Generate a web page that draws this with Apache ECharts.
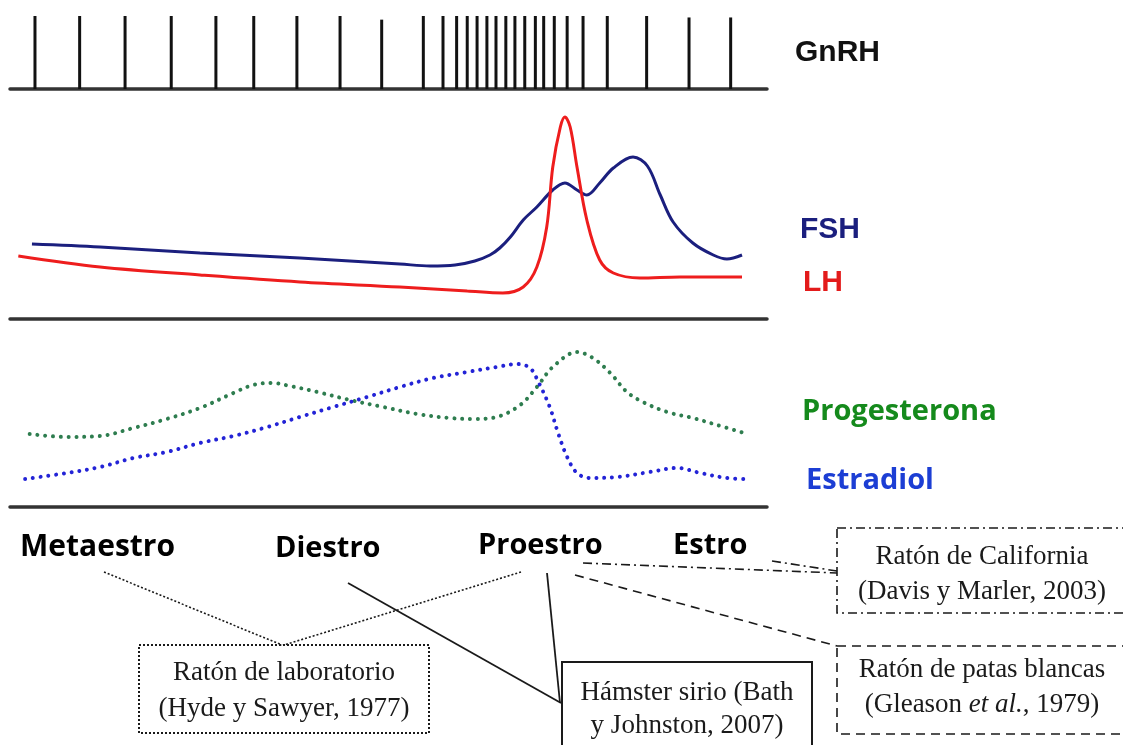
<!DOCTYPE html>
<html>
<head>
<meta charset="utf-8">
<script src="https://cdn.jsdelivr.net/npm/echarts@6/dist/echarts.min.js"></script>
<style>
html, body { margin: 0; padding: 0; background: #fff; }
#chart { width: 1123px; height: 745px; }
</style>
</head>
<body>
<div id="chart"></div>
<script>
// time axis: % of the cycle (0-100), hormone levels in relative units
var gnrhTimes = [3.3, 9.2, 15.2, 21.3, 27.2, 32.2, 37.9, 43.6, 49.1, 54.6, 57.2, 59.0, 60.4, 61.7,
    63.0, 64.2, 65.5, 66.7, 68.0, 69.4, 70.5, 71.9, 73.6, 75.7, 78.9, 84.1, 89.7, 95.2];
var gnrhHeights = [1, 1, 1, 1, 1, 1, 1, 1, 0.95, 1, 1, 1, 1, 1,
    1, 1, 1, 1, 1, 1, 1, 1, 1, 1, 1, 1, 0.98, 0.98];

var fsh = [[2.9, 37.5], [11.9, 36], [25.1, 33], [38.3, 30.5], [51.5, 27.5], [55.5, 26.5], [58.8, 27],
    [61.4, 29], [63.4, 32], [64.7, 35.5], [66.1, 41], [67.8, 49.5], [69.6, 56], [71.7, 64.5],
    [73.3, 68], [74.9, 64.5], [76.2, 62], [77.9, 68], [79.7, 75.5], [82.3, 81], [84.2, 76.5],
    [85.9, 62], [87.6, 48.5], [90.2, 38], [92.9, 32], [94.7, 30], [96.7, 32]];
var lh = [[1.1, 31.5], [11.9, 26], [25.1, 22], [38.3, 18.5], [51.5, 16], [60.4, 14], [65.1, 13],
    [67.8, 16], [69.6, 26], [70.9, 46], [71.7, 76], [72.7, 96], [73.3, 101], [74.0, 96],
    [74.9, 76], [76.2, 49.5], [77.9, 29.5], [79.7, 23], [83.2, 20.5], [88.5, 21], [96.7, 21]];

var progesterona = [[2.6, 36.5], [7.5, 35], [11.9, 35.5], [16.3, 39.5], [20.7, 44], [25.1, 49.5],
    [29.5, 57], [32.1, 61], [34.6, 62], [37.0, 60.5], [40.6, 57.5], [44.9, 53.5], [49.3, 50],
    [53.8, 46.5], [58.1, 44.5], [61.2, 44], [64.3, 45], [67.4, 51], [69.6, 60], [71.7, 70],
    [74.9, 77.5], [77.0, 74.5], [79.3, 67], [81.5, 57.5], [83.6, 52.5], [86.8, 47.5],
    [90.2, 44.5], [93.4, 41], [97.4, 36.5]];
var estradiol = [[2.0, 14], [7.5, 17], [11.9, 20], [16.3, 24.5], [20.7, 27.5], [25.1, 32],
    [29.5, 35.5], [34.0, 40], [38.3, 45], [42.7, 50], [47.2, 55], [51.5, 60], [55.9, 64.5],
    [60.4, 67.5], [64.3, 70], [67.0, 71.5], [68.7, 69.5], [69.8, 62.5], [71.3, 50], [72.4, 37],
    [73.6, 25], [74.9, 17], [76.6, 14.5], [80.2, 15], [84.5, 17.5], [88.1, 19.5], [91.2, 17],
    [94.7, 14.5], [97.4, 14]];

var phases = ['Metaestro', 'Diestro', 'Proestro', 'Estro'];
var hormoneNames = ['GnRH', 'FSH', 'LH', 'Progesterona', 'Estradiol'];

var chart = echarts.init(document.getElementById('chart'));

var sans = 'Liberation Sans';
var bodyFont = 'Open Sans';
var serif = 'Liberation Serif';

function label(x, y, s, size, family, color, align) {
    return {
        type: 'text', x: x, y: y, z: 10,
        style: {
            text: s, fontSize: size, fontFamily: family, fontWeight: 'bold',
            fill: color, textAlign: align || 'left', textVerticalAlign: 'middle'
        }
    };
}
function note(x, y, s) {
    return {
        type: 'text', x: x, y: y, z: 10,
        style: {
            text: s, fontSize: 27, fontFamily: serif, fill: '#1a1a1a',
            textAlign: 'center', textVerticalAlign: 'middle',
            rich: { i: { fontSize: 27, fontFamily: serif, fontStyle: 'italic', fill: '#1a1a1a' } }
        }
    };
}
function seg(x1, y1, x2, y2, dash, w) {
    return {
        type: 'line', z: 5, shape: { x1: x1, y1: y1, x2: x2, y2: y2 },
        style: { stroke: '#1a1a1a', lineWidth: w || 1.6, lineDash: dash }
    };
}
function box(x, y, w, h, dash, lw) {
    return {
        type: 'rect', z: 6, shape: { x: x, y: y, width: w, height: h },
        style: { fill: 'none', stroke: '#1a1a1a', lineWidth: lw || 1.6, lineDash: dash }
    };
}

var dotted = [2, 2];
var dashDot = [9, 4, 2, 4];
var dashed = [9, 6];

function axisFor(idx) {
    return {
        type: 'value', gridIndex: idx, min: 0, max: 100,
        axisLine: { show: true, lineStyle: { color: '#333', width: 3.5 } },
        axisTick: { show: false }, axisLabel: { show: false }, splitLine: { show: false }
    };
}
function levelAxis(idx, max) {
    return { type: 'value', gridIndex: idx, min: 0, max: max, show: false, splitLine: { show: false } };
}
function dotLine(color) {
    return { color: color, width: 4, type: [0.01, 7.8], cap: 'round' };
}

var option = {
    backgroundColor: '#fff',
    animation: false,
    grid: [
        { left: 10, width: 757, top: 16, height: 73 },
        { left: 10, width: 757, top: 109, height: 210 },
        { left: 10, width: 757, top: 307, height: 200 }
    ],
    xAxis: [axisFor(0), axisFor(1), axisFor(2)],
    yAxis: [levelAxis(0, 1), levelAxis(1, 105), levelAxis(2, 100)],
    series: [
        {
            name: 'GnRH', type: 'bar', xAxisIndex: 0, yAxisIndex: 0, barWidth: 3,
            itemStyle: { color: '#111' },
            data: gnrhTimes.map(function (t, i) { return [t, gnrhHeights[i]]; })
        },
        {
            name: 'FSH', type: 'line', xAxisIndex: 1, yAxisIndex: 1, smooth: 0.35, symbol: 'none',
            lineStyle: { color: '#1b1f7e', width: 3 }, data: fsh
        },
        {
            name: 'LH', type: 'line', xAxisIndex: 1, yAxisIndex: 1, smooth: 0.35, symbol: 'none',
            lineStyle: { color: '#ee1d1d', width: 3 }, data: lh
        },
        {
            name: 'Progesterona', type: 'line', xAxisIndex: 2, yAxisIndex: 2, smooth: 0.35, symbol: 'none',
            lineStyle: dotLine('#2e7d4f'), data: progesterona
        },
        {
            name: 'Estradiol', type: 'line', xAxisIndex: 2, yAxisIndex: 2, smooth: 0.35, symbol: 'none',
            lineStyle: dotLine('#2323d6'), data: estradiol
        }
    ],
    graphic: [
        label(795, 53, hormoneNames[0], 30, sans, '#111'),
        label(800, 230, hormoneNames[1], 30, sans, '#1b1f7e'),
        label(803, 283, hormoneNames[2], 30, sans, '#e31b1b'),
        label(802, 412, hormoneNames[3], 29, bodyFont, '#158a1c'),
        label(806, 481, hormoneNames[4], 29, bodyFont, '#1c3ed4'),

        label(20, 547, phases[0], 30, bodyFont, '#000'),
        label(275, 549, phases[1], 29, bodyFont, '#000'),
        label(478, 546, phases[2], 29, bodyFont, '#000'),
        label(673, 546, phases[3], 29, bodyFont, '#000'),

        // conectores
        seg(104, 572, 282, 645, dotted),
        seg(521, 572, 284, 645, dotted),
        seg(348, 583, 561, 703, null, 1.8),
        seg(547, 573, 560, 703, null, 1.8),
        seg(583, 563, 837, 573, dashDot),
        seg(772, 561, 837, 571, dashDot),
        seg(575, 575, 837, 646, dashed),

        // especies
        box(139, 645, 290, 88, dotted, 2),
        box(562, 662, 250, 100, null, 2),
        box(837, 528, 300, 85, dashDot),
        box(837, 646, 300, 88, dashed),

        note(284, 673, 'Ratón de laboratorio'),
        note(284, 709, '(Hyde y Sawyer, 1977)'),
        note(687, 693, 'Hámster sirio (Bath'),
        note(687, 726, 'y Johnston, 2007)'),
        note(982, 557, 'Ratón de California'),
        note(982, 592, '(Davis y Marler, 2003)'),
        note(982, 670, 'Ratón de patas blancas'),
        note(982, 705, '(Gleason {i|et al.}, 1979)')
    ]
};

chart.setOption(option);
</script>
</body>
</html>
